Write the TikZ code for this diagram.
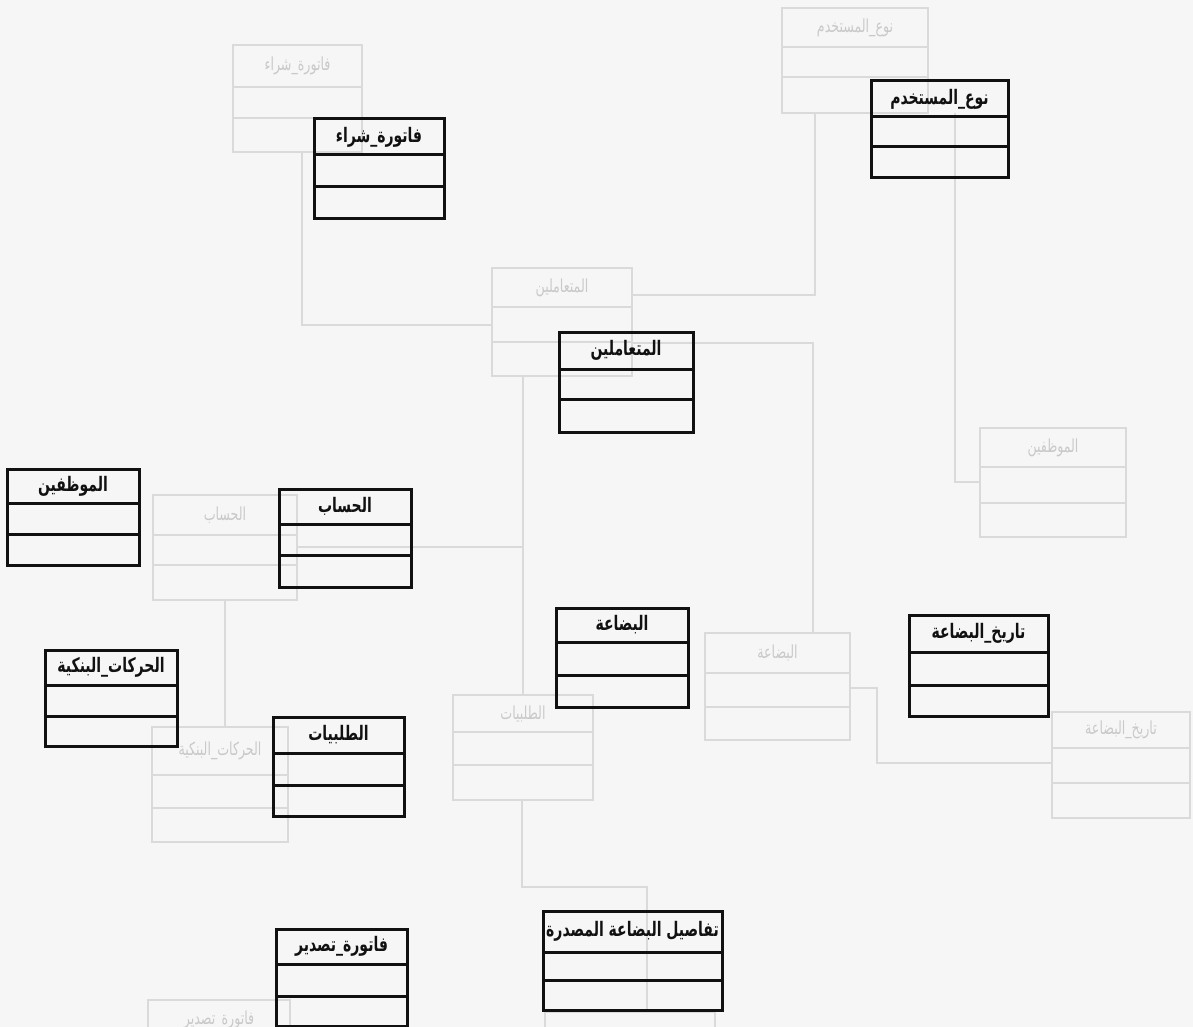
\documentclass[tikz,border=0pt]{standalone}
\usepackage{fontspec}
\usepackage{xcolor}
\usepackage{tikz}
\usetikzlibrary{positioning}
\TeXXeTstate=1
\newfontfamily\arabicfont[Script=Arabic, FakeStretch=0.7]{DejaVu Sans}
\definecolor{erPaper}{HTML}{F6F6F6}
\definecolor{erInk}{HTML}{111111}
\definecolor{erGhost}{HTML}{DADADA}
\definecolor{erGhostText}{HTML}{C9C9C9}
\tikzset{
  er diagram/.style={x=0.5pt, y=-0.5pt, line join=miter},
  er box/.style={draw=erInk, line width=1.5pt, inner sep=0pt, outer sep=0pt},
  er rule/.style={draw=erInk, line width=1.5pt},
  er title/.style={font=\arabicfont\bfseries\fontsize{10}{11}\selectfont,
    text=erInk, inner sep=0pt},
  er ghost box/.style={draw=erGhost, line width=0.6pt, inner sep=0pt, outer sep=0pt},
  er ghost/.style={draw=erGhost, line width=0.6pt},
  er ghost title/.style={font=\arabicfont\fontsize{9}{10}\selectfont,
    text=erGhostText, inner sep=0pt}
}

\begin{document}
\begin{tikzpicture}[er diagram]
\fill[erPaper] (0,0) rectangle (1193,1027);
\useasboundingbox (0,0) rectangle (1193,1027);

% faint boxes showing through the page
\foreach \nm/\xa/\ya/\xb/\yb/\da/\db/\ttl in {
  gFatShira/233/45/362/152/87/118/فاتورة\_شراء,
  gNaw/782/8/928/113/47/77/نوع\_المستخدم,
  gMut/492/268/632/376/307/342/المتعاملين,
  gMuw/980/428/1126/537/467/503/الموظفين,
  gHisab/153/495/297/600/535/565/الحساب,
  gHarakat/152/727/288/842/775/808/الحركات\_البنكية,
  gTalab/453/695/593/800/732/765/الطلبيات,
  gBidaa/705/633/850/740/673/707/البضاعة,
  gTarikh/1052/712/1190/818/748/783/تاريخ\_البضاعة,
  gFatTasdir/148/1000/290/1110/1040/1075/فاتورة\_تصدير,
  gTafasil/545/1012/715/1115/1050/1085/{}}{
  \node[er ghost box, minimum width={(\xb-\xa)*0.5pt}, minimum height={(\yb-\ya)*0.5pt}]
    (\nm) at ({(\xa+\xb)/2},{(\ya+\yb)/2}) {};
  \draw[er ghost] (\xa,\da) -- (\xb,\da) (\xa,\db) -- (\xb,\db);
  \node[er ghost title] (\nm-t) at ({(\xa+\xb)/2},{(\ya+\da)/2}) {\beginR\ttl\endR};
}

\draw[er ghost] (gFatShira.south -| 302,0) |- (gMut.west |- 0,325);
\draw[er ghost] (gNaw.south -| 815,0) |- (gMut.east |- 0,295);
\draw[er ghost] (gNaw.south -| 955,0) |- (gMuw.west |- 0,482);
\draw[er ghost] (gMut.east |- 0,343) -| (gBidaa.north -| 813,0);
\draw[er ghost] (gMut.south -| 523,0) -- (gTalab.north -| 523,0);
\draw[er ghost] (gHisab.east |- 0,547) -- (523,547);
\draw[er ghost] (gHisab.south -| 225,0) -- (gHarakat.north -| 225,0);
\draw[er ghost] (gTalab.south -| 522,0) |- (647,887) -- (gTafasil.north -| 647,0);
\draw[er ghost] (gBidaa.east |- 0,688) -| (877,763) -- (gTarikh.west |- 0,763);

% class boxes
\foreach \nm/\xa/\ya/\xb/\yb/\da/\db/\ttl in {
  fatShira/314/119/444/219/155/187/فاتورة\_شراء,
  nawMustakhdim/871/81/1008/178/117/147/نوع\_المستخدم,
  mutaamilin/559/332/693/432/369/399/المتعاملين,
  muwazzafin/7/469/139/565/503/534/الموظفين,
  hisab/279/489/411/587/524/555/الحساب,
  harakat/45/650/177/746/685/716/الحركات\_البنكية,
  talabiyat/273/717/404/816/753/785/الطلبيات,
  bidaa/556/608/688/707/642/675/البضاعة,
  tarikh/909/615/1048/716/652/685/تاريخ\_البضاعة,
  fatTasdir/276/929/407/1026/964/996/فاتورة\_تصدير,
  tafasil/543/911/722/1010/952/980/تفاصيل البضاعة المصدرة}{
  \node[er box, minimum width={(\xb-\xa)*0.5pt}, minimum height={(\yb-\ya)*0.5pt}]
    (\nm) at ({(\xa+\xb)/2},{(\ya+\yb)/2}) {};
  \draw[er rule] (\xa,\da) -- (\xb,\da) (\xa,\db) -- (\xb,\db);
  \node[er title] (\nm-t) at ({(\xa+\xb)/2},{(\ya+\da)/2}) {\beginR\ttl\endR};
}
\end{tikzpicture}
\end{document}
